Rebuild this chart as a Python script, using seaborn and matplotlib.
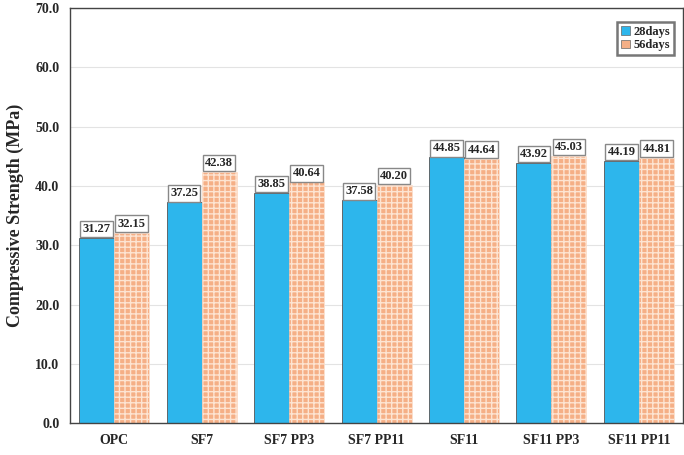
import matplotlib
matplotlib.use("Agg")
import matplotlib.pyplot as plt
import pandas as pd
import seaborn as sns

mixes = ["OPC", "SF7", "SF7 PP3", "SF7 PP11", "SF11", "SF11 PP3", "SF11 PP11"]
days28 = [31.27, 37.25, 38.85, 37.58, 44.85, 43.92, 44.19]
days56 = [32.15, 42.38, 40.64, 40.20, 44.64, 45.03, 44.81]
series = ["28days", "56days"]

df = pd.DataFrame({
    "mix": mixes * 2,
    "age": [series[0]] * len(mixes) + [series[1]] * len(mixes),
    "strength": days28 + days56,
})

sns.set_style("white")
plt.rcParams["font.family"] = ["Liberation Serif", "DejaVu Serif"]
plt.rcParams["font.weight"] = "bold"

fig = plt.figure(figsize=(6.84, 4.55), dpi=100)
ax = fig.add_axes([0.103, 0.070, 0.895, 0.912])

blue = "#2DB6EC"
orange = "#F5AF86"
sns.barplot(
    data=df, x="mix", y="strength", hue="age", order=mixes, hue_order=series,
    palette=[blue, orange], width=0.8, ax=ax, legend=True, saturation=1,
)

n = len(mixes)
for i, bar in enumerate(ax.patches[:2 * n]):
    if i < n:
        bar.set_edgecolor("#555555")
        bar.set_linewidth(0.6)
    else:
        bar.set_hatch("+++")
        bar.set_edgecolor("#FDE4D2")
        bar.set_linewidth(0.4)

for container in ax.containers:
    for bar in container:
        h = bar.get_height()
        ax.text(
            bar.get_x() + bar.get_width() / 2, h + 0.5, f"{h:.2f}",
            ha="center", va="bottom", fontsize=9, fontweight="bold",
            bbox=dict(boxstyle="square,pad=0.18", facecolor="white",
                      edgecolor="#888888", linewidth=1.0),
        )

ax.set_ylim(0, 70)
ax.set_yticks(range(0, 71, 10))
ax.set_yticklabels([f"{v:.1f}" for v in range(0, 71, 10)])
ax.set_xlim(-0.5, n - 0.5)
ax.yaxis.grid(True, color="#E3E3E3", linewidth=0.8)
ax.set_axisbelow(True)
ax.set_xlabel("")
ax.set_ylabel("Compressive Strength (MPa)", fontsize=13, fontweight="bold", labelpad=8)
ax.tick_params(axis="both", labelsize=10, length=0, pad=8)
for lbl in ax.get_xticklabels() + ax.get_yticklabels():
    lbl.set_fontweight("bold")
for sp in ax.spines.values():
    sp.set_color("#444444")
    sp.set_linewidth(1.0)

handles, labels = ax.get_legend_handles_labels()
leg = ax.legend(handles, labels, loc="upper right", bbox_to_anchor=(0.992, 0.975),
                fontsize=9, frameon=True, fancybox=False, handlelength=0.7,
                handleheight=0.7, handletextpad=0.3, borderpad=0.3,
                labelspacing=0.1, edgecolor="#555555", borderaxespad=0.3)
leg.get_frame().set_linewidth(1.8)
for t in leg.get_texts():
    t.set_fontweight("bold")
leg._legend_box.align = "center"
for p in leg.get_patches():
    p.set_hatch(None)
    p.set_edgecolor("#666666")
    p.set_linewidth(0.5)

fig.savefig("out.png", dpi=100)
